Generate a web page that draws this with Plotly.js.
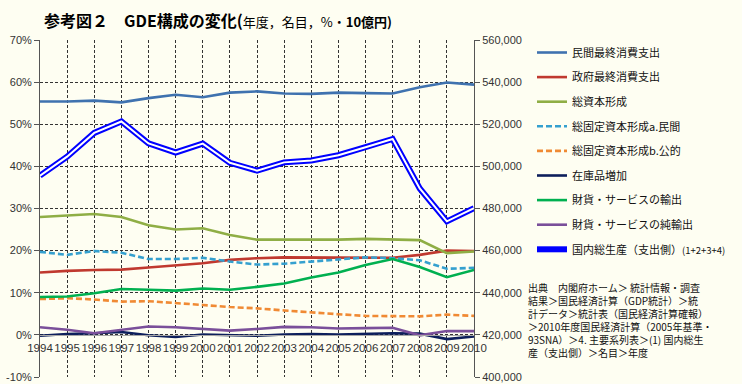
<!DOCTYPE html>
<html><head><meta charset="utf-8">
<script src="https://cdn.plot.ly/plotly-3.0.1.min.js"></script>
<style>html,body{margin:0;padding:0;background:#fefef2;}#chart{width:742px;height:384px;}</style>
</head><body><div id="chart"></div>
<script>
const years = [1994,1995,1996,1997,1998,1999,2000,2001,2002,2003,2004,2005,2006,2007,2008,2009,2010];
const privateConsumption = [55.4,55.4,55.6,55.2,56.2,57.0,56.4,57.5,57.8,57.3,57.2,57.5,57.4,57.3,58.8,59.9,59.4];
const governmentConsumption = [14.8,15.2,15.4,15.5,16.0,16.5,17.0,17.8,18.2,18.4,18.4,18.4,18.4,18.3,19.0,20.0,19.9];
const grossCapitalFormation = [28.0,28.4,28.7,28.0,26.0,25.0,25.3,23.7,22.6,22.6,22.6,22.6,22.8,22.7,22.5,19.4,19.8];
const privateFixedCapital = [19.7,19.0,19.9,19.5,18.0,18.0,18.3,17.4,16.7,16.9,17.4,17.9,18.4,18.2,17.7,15.7,15.9];
const publicFixedCapital = [8.5,8.7,8.4,7.9,8.0,7.6,7.1,6.6,6.3,5.8,5.3,4.9,4.5,4.4,4.4,4.8,4.5];
const inventoryChange = [-0.2,0.2,0.4,0.7,-0.1,-0.5,0.1,-0.1,-0.2,0.1,0.2,0.1,0.2,0.4,0.3,-1.0,-0.4];
const exportsGS = [9.0,9.1,9.9,10.9,10.7,10.5,11.0,10.7,11.4,12.2,13.6,14.8,16.6,18.0,16.1,13.7,15.4];
const netExports = [1.8,1.2,0.4,1.2,2.0,1.8,1.4,1.0,1.4,1.9,1.8,1.5,1.6,1.7,-0.1,0.9,0.9];
const gdp = [495600,504600,515900,521300,510900,506600,510800,501700,498000,501900,502800,505300,509100,513000,489500,473900,480200];

const seriesNames = ["民間最終消費支出","政府最終消費支出","総資本形成","総固定資本形成a.民間","総固定資本形成b.公的","在庫品増加","財貨・サービスの輸出","財貨・サービスの純輸出","国内総生産（支出側）<span style='font-size:9.5px'>(1+2+3+4)</span>"];
const leftTicks = [-10,0,10,20,30,40,50,60,70];
const rightTicks = [400000,420000,440000,460000,480000,500000,520000,540000,560000];
const sourceLines = ["出典　内閣府ホーム＞ 統計情報・調査","結果＞国民経済計算（GDP統計）＞統","計データ＞統計表（国民経済計算確報）","＞2010年度国民経済計算（2005年基準・","93SNA）＞4. 主要系列表＞(1) 国内総生","産（支出側）＞名目＞年度"];

const pctSeries = [privateConsumption,governmentConsumption,grossCapitalFormation,privateFixedCapital,publicFixedCapital,inventoryChange,exportsGS,netExports];
const colors = ["#3f72af","#c0392f","#8fae45","#35a0cf","#f08a34","#0d1f5c","#00b050","#7a4f9a"];
const dashes = ["solid","solid","solid","6px,3px","6px,3px","solid","solid","solid"];

const traces = pctSeries.map((s,i)=>({
  x: years, y: s, type:'scatter', mode:'lines', name: seriesNames[i],
  legendgroup:'g'+i, line:{color:colors[i], width:2.6, dash:dashes[i]}, yaxis:'y'
}));
traces.push({x:years, y:gdp, type:'scatter', mode:'lines', name:seriesNames[8], legendgroup:'g8',
  line:{color:'#0000ff', width:6}, yaxis:'y2'});
traces.push({x:years, y:gdp, type:'scatter', mode:'lines', name:seriesNames[8], legendgroup:'g8', showlegend:false,
  line:{color:'#ffffff', width:2}, yaxis:'y2', hoverinfo:'skip'});

const W = 742, H = 384, L = 40, R = 474, T = 40, B = 377;
const px = x => (x - L)/(R - L);
const py = y => (B - y)/(B - T);

const annotations = [{
  xref:'paper', yref:'paper', x:px(42), y:py(20), xanchor:'left', yanchor:'middle', showarrow:false,
  text:"<b>参考図２　GDE構成の変化(</b><span style='font-size:13px'>年度，名目，%・</span><b><span style='font-size:13px'>10億円)</span></b>",
  font:{family:"'Noto Sans CJK JP', sans-serif", size:16, color:'#000'}
}, {
  xref:'paper', yref:'paper', x:px(526), y:py(278), xanchor:'left', yanchor:'top', showarrow:false, align:'left',
  text: sourceLines.join('<br>'),
  font:{family:"'Noto Sans CJK JP', sans-serif", size:10, color:'#111'}
}];

const layout = {
  width:W, height:H, paper_bgcolor:'#fefef2', plot_bgcolor:'#fefef2',
  margin:{l:L, r:W-R, t:T, b:H-B},
  font:{family:"'Liberation Sans', Arial, sans-serif", size:11, color:'#333'},
  showlegend:true,
  legend:{x:px(532), y:py(38), xanchor:'left', yanchor:'top', bgcolor:'rgba(0,0,0,0)', maxheight:380,
    font:{family:"'Noto Sans CJK JP', sans-serif", size:11, color:'#111'}, tracegroupgap:5.6, itemwidth:30},
  xaxis:{range:[1994,2010], tickvals:years, ticktext:years.map(String), anchor:'free', position:0.125,
    showline:true, linecolor:'#a6a6a6', linewidth:1.5, ticks:'', ticklabelstandoff:2, tickangle:0,
    showgrid:true, gridcolor:'#333', griddash:'3px,2px', gridwidth:1, zeroline:false,
    tickfont:{size:11.5, color:'#333'}},
  yaxis:{range:[-10,70], tickvals:leftTicks, ticktext:leftTicks.map(v=>v+'%'), showline:true, linecolor:'#555', linewidth:1,
    ticks:'outside', ticklen:5, tickcolor:'#555', showgrid:true, gridcolor:'#333', griddash:'3px,2px', gridwidth:1, zeroline:false,
    tickfont:{size:11, color:'#333'}},
  yaxis2:{range:[400000,560000], tickvals:rightTicks, ticktext:rightTicks.map(v=>v.toLocaleString('en-US')), overlaying:'y', side:'right',
    showline:true, linecolor:'#555', linewidth:1, ticks:'outside', ticklen:5, tickcolor:'#555', showgrid:false, zeroline:false,
    tickfont:{size:11, color:'#333'}},
  annotations: annotations
};
Plotly.newPlot('chart', traces, layout, {displayModeBar:false, staticPlot:true});
</script></body></html>
